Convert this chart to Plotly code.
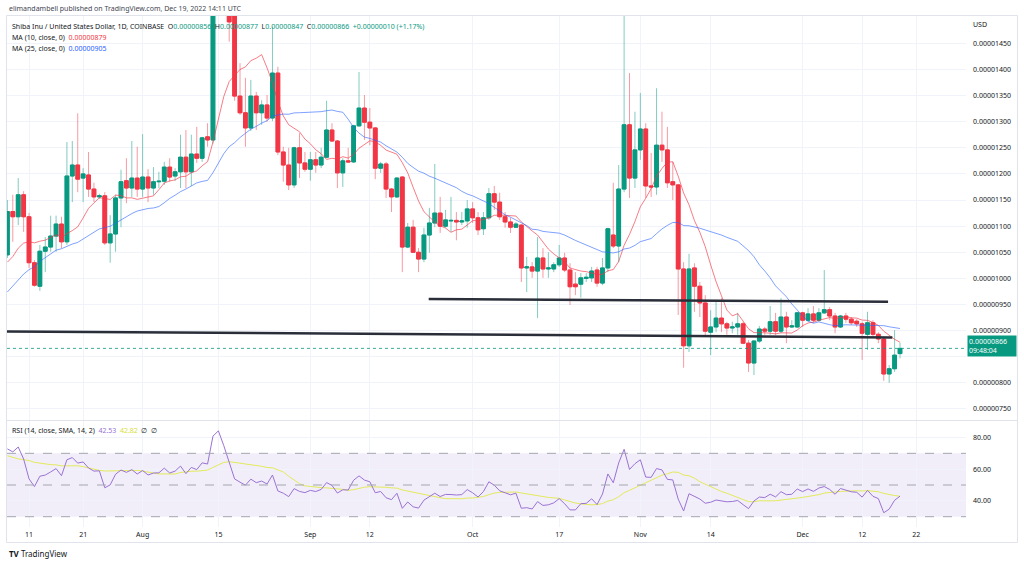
import pandas as pd
import plotly.graph_objects as go

# SHIB/USD daily candles (COINBASE), prices in units of 1e-8 USD
dates = pd.date_range("2022-07-07", "2022-12-19", freq="D")

opens = [1045, 1128, 1118, 1160, 1118, 1030, 985, 1052, 1060, 1081,
         1104, 1070, 1196, 1217, 1192, 1198, 1171, 1156, 1158, 1068,
         1085, 1154, 1187, 1173, 1192, 1171, 1194, 1173, 1185, 1186,
         1213, 1196, 1204, 1232, 1204, 1238, 1230, 1271, 1265, 1560,
         1680, 1600, 1510, 1349, 1317, 1288, 1349, 1317, 1332, 1307,
         1393, 1242, 1217, 1179, 1250, 1221, 1209, 1227, 1217, 1232,
         1284, 1263, 1202, 1225, 1223, 1292, 1326, 1299, 1288, 1211,
         1219, 1171, 1156, 1194, 1060, 1098, 1050, 1037, 1083, 1106,
         1125, 1100, 1110, 1111, 1108, 1110, 1133, 1116, 1095, 1116,
         1162, 1146, 1118, 1108, 1098, 1102, 1020, 1022, 1014, 1039,
         1018, 1018, 1026, 1039, 1016, 989, 989, 1000, 1001, 1016,
         991, 1020, 1083, 1062, 1171, 1294, 1192, 1246, 1286, 1177,
         1175, 1255, 1246, 1185, 1179, 1018, 871, 1020, 985, 953,
         897, 907, 924, 913, 905, 907, 913, 876, 838, 880,
         903, 899, 917, 899, 926, 907, 907, 934, 920, 932,
         920, 934, 940, 928, 907, 928, 922, 918, 913, 893,
         915, 893, 884, 817, 827, 856]
highs = [1150, 1160, 1192, 1167, 1125, 1035, 1064, 1079, 1120, 1120,
         1118, 1261, 1263, 1316, 1211, 1242, 1183, 1162, 1165, 1121,
         1160, 1208, 1230, 1263, 1252, 1276, 1209, 1213, 1204, 1223,
         1230, 1211, 1275, 1284, 1275, 1290, 1271, 1297, 1600, 1760,
         1720, 1620, 1530, 1412, 1384, 1380, 1357, 1341, 1351, 1482,
         1405, 1252, 1250, 1252, 1278, 1242, 1242, 1242, 1250, 1340,
         1297, 1265, 1230, 1250, 1294, 1395, 1351, 1326, 1290, 1223,
         1223, 1173, 1194, 1196, 1106, 1112, 1058, 1097, 1135, 1219,
         1156, 1131, 1156, 1127, 1127, 1150, 1146, 1127, 1127, 1173,
         1177, 1164, 1127, 1116, 1108, 1104, 1041, 1031, 1079, 1058,
         1050, 1031, 1064, 1049, 1029, 1012, 1010, 1010, 1022, 1022,
         1039, 1097, 1183, 1217, 1520, 1393, 1319, 1355, 1297, 1240,
         1364, 1319, 1290, 1223, 1181, 1031, 1047, 1029, 993, 968,
         939, 955, 962, 917, 917, 934, 917, 882, 882, 909,
         907, 947, 934, 962, 936, 920, 936, 936, 943, 947,
         943, 1016, 945, 934, 930, 934, 926, 922, 917, 936,
         920, 897, 888, 834, 901, 877]
lows = [1039, 1070, 1102, 1089, 1020, 984, 976, 1012, 1051, 1051,
        1058, 1064, 1146, 1165, 1146, 1156, 1146, 1152, 1064, 1030,
        1051, 1098, 1144, 1156, 1156, 1156, 1146, 1160, 1173, 1179,
        1185, 1187, 1173, 1173, 1177, 1221, 1223, 1252, 1258, 1530,
        1560, 1453, 1340, 1313, 1252, 1282, 1284, 1294, 1300, 1301,
        1236, 1185, 1169, 1173, 1192, 1204, 1187, 1202, 1211, 1230,
        1261, 1173, 1175, 1221, 1221, 1290, 1265, 1255, 1190, 1202,
        1154, 1127, 1154, 1012, 1058, 1049, 1012, 1031, 1049, 1098,
        1087, 1097, 1089, 1073, 1102, 1097, 1106, 1083, 1083, 1112,
        1131, 1112, 1097, 1087, 1097, 993, 974, 1001, 924, 1001,
        1001, 1012, 1022, 1012, 949, 968, 963, 993, 993, 984,
        987, 1012, 1058, 1031, 1165, 1154, 1173, 1227, 1154, 1156,
        1160, 1223, 1173, 1150, 930, 829, 859, 936, 926, 888,
        853, 897, 897, 892, 895, 892, 874, 821, 815, 876,
        892, 892, 892, 895, 876, 905, 905, 907, 917, 915,
        917, 932, 920, 895, 905, 915, 911, 907, 844, 863,
        888, 876, 804, 800, 821, 847]
closes = [1128, 1118, 1160, 1118, 1030, 987, 1052, 1060, 1081, 1104,
          1070, 1196, 1217, 1190, 1200, 1171, 1156, 1158, 1068, 1085,
          1154, 1185, 1173, 1192, 1171, 1194, 1173, 1185, 1186, 1213,
          1194, 1204, 1232, 1204, 1238, 1230, 1269, 1265, 1560, 1680,
          1600, 1491, 1349, 1317, 1288, 1349, 1317, 1332, 1307, 1393,
          1242, 1217, 1179, 1250, 1221, 1209, 1227, 1217, 1232, 1284,
          1263, 1202, 1225, 1223, 1292, 1326, 1299, 1288, 1211, 1219,
          1171, 1156, 1192, 1060, 1098, 1050, 1037, 1083, 1106, 1125,
          1100, 1112, 1111, 1108, 1110, 1133, 1116, 1093, 1116, 1162,
          1146, 1118, 1108, 1098, 1104, 1020, 1022, 1014, 1039, 1018,
          1020, 1026, 1039, 1016, 984, 984, 1001, 1002, 1014, 991,
          1020, 1095, 1062, 1171, 1294, 1192, 1246, 1286, 1177, 1175,
          1255, 1246, 1183, 1179, 1018, 871, 1018, 985, 953, 899,
          907, 924, 913, 905, 907, 913, 876, 838, 880, 903,
          899, 917, 899, 926, 907, 909, 934, 920, 932, 920,
          934, 940, 928, 907, 928, 922, 915, 913, 895, 915,
          893, 884, 817, 827, 853, 866]

# estimated closes before the window (Jun 13 - Jul 6), only to warm up MA / RSI
warmup_closes = [830, 840, 870, 820, 840, 800, 880, 900, 930,
                 1000, 1070, 1120, 1110, 1050, 980,
                 1010, 1000, 1020, 1005, 1008,
                 1020, 1040, 1030, 1049]

price_ticks = [750, 800, 850, 900, 950, 1000, 1050, 1100, 1150, 1200,
               1250, 1300, 1350, 1400, 1450]
# the 850 label is hidden behind the last-price tag
price_labels = ["0.00000750", "0.00000800", "", "0.00000900", "0.00000950",
                "0.00001000", "0.00001050", "0.00001100", "0.00001150", "0.00001200",
                "0.00001250", "0.00001300", "0.00001350", "0.00001400", "0.00001450"]
rsi_ticks = [40, 60, 80]
rsi_labels = ["40.00", "60.00", "80.00"]
rsi_levels = [70, 50, 30]

time_ticks = ["2022-07-11", "2022-07-21", "2022-08-01", "2022-08-15", "2022-09-01",
              "2022-09-12", "2022-10-01", "2022-10-17", "2022-11-01", "2022-11-14",
              "2022-12-01", "2022-12-12", "2022-12-22"]
time_labels = ["11", "21", "Aug", "15", "Sep", "12", "Oct", "17", "Nov", "14",
               "Dec", "12", "22"]

# hand-drawn horizontal levels
upper_level_dates = ["2022-09-22 21:00", "2022-12-16 19:00"]
upper_level_prices = [960.5, 955.4]
lower_level_dates = ["2022-07-06 22:14", "2022-12-17 14:00"]
lower_level_prices = [898.5, 887]

UP = "#089981"
DN = "#F23645"
UP_WICK = "rgba(8,153,129,0.5)"
DN_WICK = "rgba(242,54,69,0.5)"
TXT = "#131722"
GRID = "#f0f3fa"
FONT = "Noto Sans"

# indicators
allc = pd.Series(warmup_closes + closes, dtype=float)
n = len(closes)
ma10 = allc.rolling(10).mean().iloc[-n:].tolist()
ma25 = allc.rolling(25).mean().iloc[-n:].tolist()
delta = allc.diff().iloc[1:]
up = delta.clip(lower=0).ewm(alpha=1 / 14, adjust=False).mean()
down = (-delta.clip(upper=0)).ewm(alpha=1 / 14, adjust=False).mean()
rsi = 100 - 100 / (1 + up / down)
rsi_ma = rsi.rolling(14).mean()
rsi_v = rsi.iloc[-n:].tolist()
rsi_ma_v = rsi_ma.iloc[-n:].tolist()

body_hi = [max(o, c) for o, c in zip(opens, closes)]
body_lo = [min(o, c) for o, c in zip(opens, closes)]

fig = go.Figure()
# wicks
fig.add_trace(go.Candlestick(
    x=dates, open=opens, high=highs, low=lows, close=closes,
    increasing=dict(line=dict(color=UP_WICK, width=1), fillcolor=UP_WICK),
    decreasing=dict(line=dict(color=DN_WICK, width=1), fillcolor=DN_WICK),
    whiskerwidth=0, hoverinfo="skip", xaxis="x", yaxis="y"))
# bodies
fig.add_trace(go.Candlestick(
    x=dates, open=opens, high=body_hi, low=body_lo, close=closes,
    increasing=dict(line=dict(color=UP, width=1), fillcolor=UP),
    decreasing=dict(line=dict(color=DN, width=1), fillcolor=DN),
    whiskerwidth=0, hoverinfo="skip", xaxis="x", yaxis="y"))

fig.add_trace(go.Scatter(x=dates, y=ma10, mode="lines",
                         line=dict(color="rgba(242,54,69,0.65)", width=1),
                         xaxis="x", yaxis="y"))
fig.add_trace(go.Scatter(x=dates, y=ma25, mode="lines",
                         line=dict(color="rgba(41,98,255,0.6)", width=1),
                         xaxis="x", yaxis="y"))
fig.add_trace(go.Scatter(x=upper_level_dates, y=upper_level_prices, mode="lines",
                         line=dict(color="#2a2e39", width=2.5), xaxis="x", yaxis="y"))
fig.add_trace(go.Scatter(x=lower_level_dates, y=lower_level_prices, mode="lines",
                         line=dict(color="#2a2e39", width=2.5), xaxis="x", yaxis="y"))

fig.add_trace(go.Scatter(x=dates, y=rsi_ma_v, mode="lines",
                         line=dict(color="#e3ea5c", width=1), xaxis="x2", yaxis="y2"))
fig.add_trace(go.Scatter(x=dates, y=rsi_v, mode="lines",
                         line=dict(color="#9a72d4", width=1), xaxis="x2", yaxis="y2"))

W, H = 1024, 565
def px_x(v):
    return v / W
def px_y(v):
    return 1 - v / H

xdom = [px_x(7), px_x(966)]
xrange = ["2022-07-06 22:14", "2022-12-31 04:48"]

fig.update_layout(
    width=W, height=H, margin=dict(l=0, r=0, t=0, b=0),
    paper_bgcolor="white", plot_bgcolor="white",
    showlegend=False, hovermode=False,
    boxmode="overlay", boxgap=0.3, boxgroupgap=0,
    font=dict(family=FONT, size=7, color=TXT),
    xaxis=dict(domain=xdom, range=xrange, type="date", anchor="y",
               tickvals=time_ticks, showticklabels=False, ticks="",
               showgrid=True, gridcolor=GRID, zeroline=False,
               rangeslider=dict(visible=False)),
    xaxis2=dict(domain=xdom, matches="x", type="date", anchor="y2",
                tickvals=time_ticks, ticktext=time_labels, ticks="",
                ticklabelstandoff=2, tickfont=dict(size=7, color=TXT),
                showgrid=True, gridcolor=GRID, zeroline=False),
    yaxis=dict(domain=[px_y(420), px_y(16)], range=[728.9, 1502.3], anchor="x",
               side="right", tickvals=price_ticks, ticktext=price_labels, ticks="",
               ticklabelstandoff=6, showgrid=True, gridcolor=GRID, zeroline=False),
    yaxis2=dict(domain=[px_y(527), px_y(421)], range=[23.5, 90.4], anchor="x2",
                side="right", tickvals=rsi_ticks, ticktext=rsi_labels, ticks="",
                ticklabelstandoff=6, showgrid=True, gridcolor=GRID, zeroline=False),
)

shapes = [
    dict(type="rect", xref="paper", yref="paper", x0=px_x(6.5), x1=px_x(1017.5),
         y0=px_y(542.5), y1=px_y(15.5), line=dict(color="#e0e3eb", width=1)),
    dict(type="line", xref="paper", yref="paper", x0=px_x(6.5), x1=px_x(1017.5),
         y0=px_y(420.5), y1=px_y(420.5), line=dict(color="#e0e3eb", width=1)),
    dict(type="line", xref="paper", yref="y", x0=xdom[0], x1=xdom[1],
         y0=closes[-1], y1=closes[-1],
         line=dict(color="rgba(8,153,129,0.8)", width=1, dash="dot")),
    dict(type="rect", xref="x2 domain", yref="y2", x0=0, x1=1,
         y0=min(rsi_levels), y1=max(rsi_levels), fillcolor="rgba(126,87,194,0.1)",
         line=dict(width=0), layer="below"),
]
for lv in rsi_levels:
    shapes.append(dict(type="line", xref="x2 domain", yref="y2", x0=0, x1=1, y0=lv, y1=lv,
                       line=dict(color="#a3a6af", width=1, dash="dash")))
fig.update_layout(shapes=shapes)

def span(t, c):
    return f"<span style='color:{c}'>{t}</span>"

sp = "\u00a0\u00a0"
head = ("Shiba Inu / United States Dollar, 1D, COINBASE" + sp +
        "O" + span("0.00000856", UP) + sp + "H" + span("0.00000877", UP) + sp +
        "L" + span("0.00000847", UP) + sp + "C" + span("0.00000866", UP) + sp +
        span("+0.00000010 (+1.17%)", UP))

notes = [
    (7, 9, "elimandambell published on TradingView.com, Dec 19, 2022 14:11 UTC", 7, "#434651"),
    (10, 26, head, 7, TXT),
    (10, 38, "MA (10, close, 0)" + sp + span("0.00000879", DN), 7, TXT),
    (10, 49, "MA (25, close, 0)" + sp + span("0.00000905", "#2962FF"), 7, TXT),
    (10, 430, "RSI (14, close, SMA, 14, 2)" + sp + span("42.53", "#9a72d4") + sp +
     span("42.82", "#d7dd3a") + sp + "\u2205" + sp + "\u2205", 7, TXT),
    (971, 25, "USD", 7, TXT),
    (7, 553, "<b>TV</b> TradingView", 8, TXT),
]
for x, y, t, s, c in notes:
    fig.add_annotation(xref="paper", yref="paper", x=px_x(x), y=px_y(y), text=t,
                       showarrow=False, xanchor="left", yanchor="middle",
                       font=dict(family=FONT, size=s, color=c))

fig.add_annotation(xref="paper", yref="paper", x=px_x(966.5), y=px_y(345.5),
                   text="0.00000866<br>09:48:04", showarrow=False,
                   xanchor="left", yanchor="middle", align="left",
                   bgcolor=UP, borderpad=1, width=46,
                   font=dict(family=FONT, size=7, color="white"))

# drop the page's default body margin so the figure sits at the window's corner
fig.write_html("out.html", config={"displayModeBar": False},
               post_script="document.body.style.margin='0';")
